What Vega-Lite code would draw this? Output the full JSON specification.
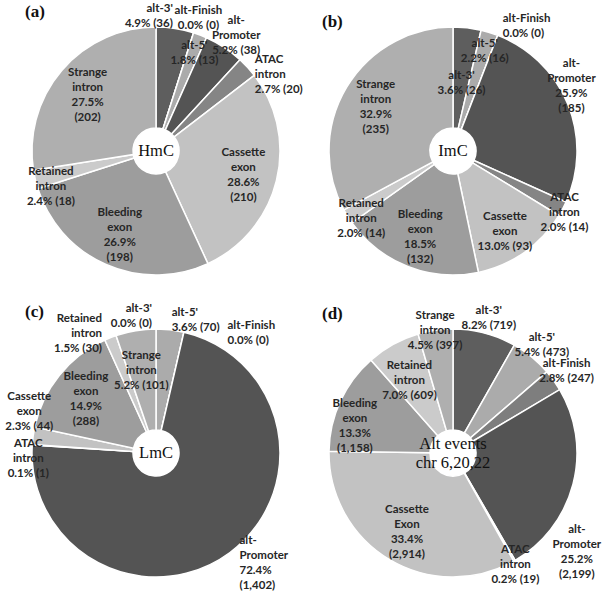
{
  "$schema": "https://vega.github.io/schema/vega-lite/v6.json",
  "padding": {"left": 5, "top": 2, "right": 0, "bottom": 0},
  "background": "white",
  "bounds": "flush",
  "spacing": {"column": 35, "row": 52},
  "data": {
    "values": [
      {"panel": "(a)", "idx": 1, "event": "alt-3'", "count": 36, "label": "alt-3'\n4.9% (36)", "pos": "outL", "hub": "HmC"},
      {"panel": "(a)", "idx": 2, "event": "alt-Finish", "count": 0, "label": "alt-Finish\n0.0% (0)", "pos": "out", "hub": "HmC"},
      {"panel": "(a)", "idx": 3, "event": "alt-5'", "count": 13, "label": "alt-5'\n1.8% (13)", "pos": "mid", "hub": "HmC"},
      {"panel": "(a)", "idx": 4, "event": "alt-Promoter", "count": 38, "label": "alt-\nPromoter\n5.2% (38)", "pos": "out3", "hub": "HmC"},
      {"panel": "(a)", "idx": 5, "event": "ATAC intron", "count": 20, "label": "ATAC\nintron\n2.7% (20)", "pos": "outRDown", "hub": "HmC"},
      {"panel": "(a)", "idx": 6, "event": "Cassette exon", "count": 210, "label": "Cassette\nexon\n28.6%\n(210)", "pos": "in4", "hub": "HmC"},
      {"panel": "(a)", "idx": 7, "event": "Bleeding exon", "count": 198, "label": "Bleeding\nexon\n26.9%\n(198)", "pos": "in4", "hub": "HmC"},
      {"panel": "(a)", "idx": 8, "event": "Retained intron", "count": 18, "label": "Retained\nintron\n2.4% (18)", "pos": "mid", "hub": "HmC"},
      {"panel": "(a)", "idx": 9, "event": "Strange intron", "count": 202, "label": "Strange\nintron\n27.5%\n(202)", "pos": "in4", "hub": "HmC"},

      {"panel": "(b)", "idx": 1, "event": "alt-3'", "count": 26, "label": "alt-3'\n3.6% (26)", "pos": "inner", "hub": "ImC"},
      {"panel": "(b)", "idx": 2, "event": "alt-5'", "count": 16, "label": "alt-5'\n2.2% (16)", "pos": "mid", "hub": "ImC"},
      {"panel": "(b)", "idx": 3, "event": "alt-Finish", "count": 0, "label": "alt-Finish\n0.0% (0)", "pos": "outR", "hub": "ImC"},
      {"panel": "(b)", "idx": 4, "event": "alt-Promoter", "count": 185, "label": "alt-\nPromoter\n25.9%\n(185)", "pos": "outUp", "hub": "ImC"},
      {"panel": "(b)", "idx": 5, "event": "ATAC intron", "count": 14, "label": "ATAC\nintron\n2.0% (14)", "pos": "edge", "hub": "ImC"},
      {"panel": "(b)", "idx": 6, "event": "Cassette exon", "count": 93, "label": "Cassette\nexon\n13.0% (93)", "pos": "in3", "hub": "ImC"},
      {"panel": "(b)", "idx": 7, "event": "Bleeding exon", "count": 132, "label": "Bleeding\nexon\n18.5%\n(132)", "pos": "in4", "hub": "ImC"},
      {"panel": "(b)", "idx": 8, "event": "Retained intron", "count": 14, "label": "Retained\nintron\n2.0% (14)", "pos": "mid", "hub": "ImC"},
      {"panel": "(b)", "idx": 9, "event": "Strange intron", "count": 235, "label": "Strange\nintron\n32.9%\n(235)", "pos": "in4", "hub": "ImC"},

      {"panel": "(c)", "idx": 1, "event": "alt-3'", "count": 0, "label": "alt-3'\n0.0% (0)", "pos": "outL", "hub": "LmC"},
      {"panel": "(c)", "idx": 2, "event": "alt-5'", "count": 70, "label": "alt-5'\n3.6% (70)", "pos": "outR", "hub": "LmC"},
      {"panel": "(c)", "idx": 3, "event": "alt-Finish", "count": 0, "label": "alt-Finish\n0.0% (0)", "pos": "callout", "hub": "LmC"},
      {"panel": "(c)", "idx": 4, "event": "alt-Promoter", "count": 1402, "label": "alt-\nPromoter\n72.4%\n(1,402)", "pos": "outR4", "hub": "LmC"},
      {"panel": "(c)", "idx": 5, "event": "ATAC intron", "count": 1, "label": "ATAC\nintron\n0.1% (1)", "pos": "side", "hub": "LmC"},
      {"panel": "(c)", "idx": 6, "event": "Cassette exon", "count": 44, "label": "Cassette\nexon\n2.3% (44)", "pos": "outUp", "hub": "LmC"},
      {"panel": "(c)", "idx": 7, "event": "Bleeding exon", "count": 288, "label": "Bleeding\nexon\n14.9%\n(288)", "pos": "in4", "hub": "LmC"},
      {"panel": "(c)", "idx": 8, "event": "Retained intron", "count": 30, "label": "Retained\nintron\n1.5% (30)", "pos": "outL", "hub": "LmC"},
      {"panel": "(c)", "idx": 9, "event": "Strange intron", "count": 101, "label": "Strange\nintron\n5.2% (101)", "pos": "in3", "hub": "LmC"},

      {"panel": "(d)", "idx": 1, "event": "alt-3'", "count": 719, "label": "alt-3'\n8.2% (719)", "pos": "out", "hub": "Alt events\nchr 6,20,22"},
      {"panel": "(d)", "idx": 2, "event": "alt-5'", "count": 473, "label": "alt-5'\n5.4% (473)", "pos": "out", "hub": "Alt events\nchr 6,20,22"},
      {"panel": "(d)", "idx": 3, "event": "alt-Finish", "count": 247, "label": "alt-Finish\n2.8% (247)", "pos": "out", "hub": "Alt events\nchr 6,20,22"},
      {"panel": "(d)", "idx": 4, "event": "alt-Promoter", "count": 2199, "label": "alt-\nPromoter\n25.2%\n(2,199)", "pos": "outBelow", "hub": "Alt events\nchr 6,20,22"},
      {"panel": "(d)", "idx": 5, "event": "ATAC intron", "count": 19, "label": "ATAC\nintron\n0.2% (19)", "pos": "edge", "hub": "Alt events\nchr 6,20,22"},
      {"panel": "(d)", "idx": 6, "event": "Cassette exon", "count": 2914, "label": "Cassette\nExon\n33.4%\n(2,914)", "pos": "in4", "hub": "Alt events\nchr 6,20,22"},
      {"panel": "(d)", "idx": 7, "event": "Bleeding exon", "count": 1158, "label": "Bleeding\nexon\n13.3%\n(1,158)", "pos": "mid", "hub": "Alt events\nchr 6,20,22"},
      {"panel": "(d)", "idx": 8, "event": "Retained intron", "count": 609, "label": "Retained\nintron\n7.0% (609)", "pos": "in3", "hub": "Alt events\nchr 6,20,22"},
      {"panel": "(d)", "idx": 9, "event": "Strange intron", "count": 397, "label": "Strange\nintron\n4.5% (397)", "pos": "edge", "hub": "Alt events\nchr 6,20,22"}
    ]
  },
  "columns": 2,
  "facet": {
    "field": "panel",
    "type": "nominal",
    "header": {
      "title": null,
      "labelAnchor": "start",
      "labelFont": "Liberation Serif",
      "labelFontWeight": "bold",
      "labelFontSize": 17,
      "labelColor": "#111111",
      "labelPadding": -18
    }
  },
  "spec": {
    "width": 262,
    "height": 250,
    "encoding": {
      "theta": {"field": "count", "type": "quantitative", "stack": "normalize"},
      "order": {"field": "idx", "type": "quantitative"}
    },
    "layer": [
      {
        "mark": {"type": "arc", "outerRadius": 124, "innerRadius": 23, "stroke": "white", "strokeWidth": 1.5},
        "encoding": {
          "color": {
            "field": "event",
            "type": "nominal",
            "legend": null,
            "scale": {
              "domain": ["alt-3'", "alt-5'", "alt-Finish", "alt-Promoter", "ATAC intron", "Cassette exon", "Bleeding exon", "Retained intron", "Strange intron"],
              "range": ["#5e5e5e", "#ababab", "#7e7e7e", "#545454", "#858585", "#c2c2c2", "#9d9d9d", "#cbcbcb", "#afafaf"]
            }
          }
        }
      },
      {
        "mark": {
          "type": "text",
          "baseline": "middle",
          "radius": {"expr": "({in4: 90, in3: 90, inner: 75, mid: 108, edge: 126, side: 128, out: 140, out3: 146, outL: 136, outR: 138, outRDown: 134, outR4: 140, outUp: 128, outBelow: 128, callout: 140})[datum.pos]"},
          "align": {"expr": "({outL: 'right', outR: 'left', outRDown: 'left', outR4: 'left', callout: 'left'})[datum.pos] || 'center'"},
          "dx": {"expr": "({outL: -4, callout: 40})[datum.pos] || 0"},
          "dy": {"expr": "({in4: -20, in3: -8, mid: -4, edge: -12, out: -7, out3: -8, outL: -8, outR: -3, outR4: -24, outUp: -38, outBelow: 45, callout: 9})[datum.pos] || 0"}
        },
        "encoding": {"detail": {"field": "event"}, "text": {"field": "label"}}
      },
      {
        "transform": [{"filter": "datum.idx === 1"}],
        "mark": {
          "type": "text", "radius": 0, "font": "Liberation Serif", "fontWeight": "normal", "fontSize": 16.5, "lineHeight": 19,
          "align": "center", "baseline": "middle", "fill": "#111111",
          "dy": {"expr": "-(length(split(datum.hub, '\\n')) - 1) * 9.5"}
        },
        "encoding": {"text": {"field": "hub"}}
      }
    ]
  },
  "config": {
    "view": {"stroke": null},
    "text": {"font": "Lato", "fontWeight": "bold", "fontSize": 11.5, "lineHeight": 15, "lineBreak": "\n", "fill": "#262626"}
  }
}
